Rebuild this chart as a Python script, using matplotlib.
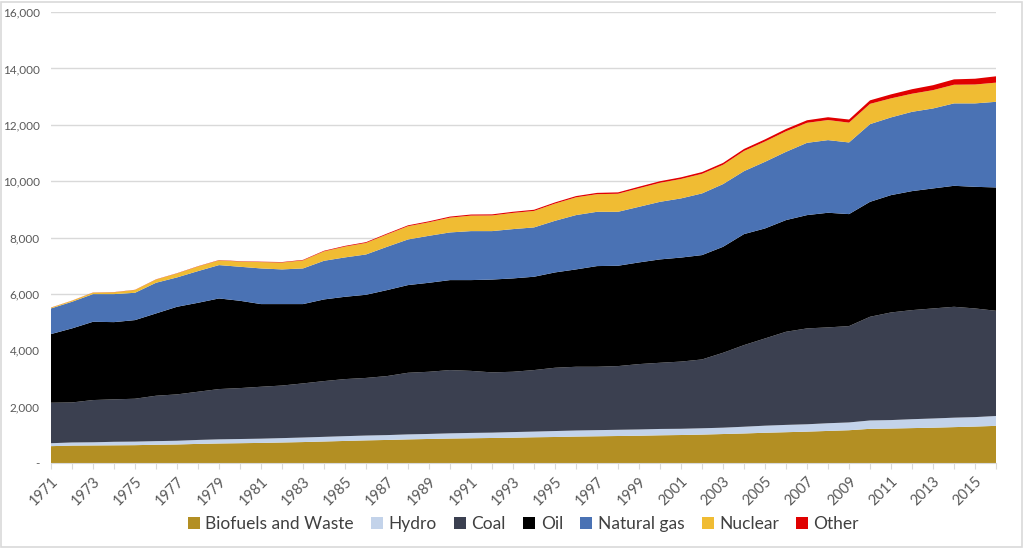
import numpy as np
import matplotlib
matplotlib.use("Agg")
import matplotlib.pyplot as plt
from matplotlib.patches import Rectangle
from matplotlib.ticker import FuncFormatter

plt.rcParams['font.family'] = ['Lato', 'DejaVu Sans']

years = np.arange(1971, 2017)

biofuels = [600, 620, 625, 630, 635, 650, 660, 680, 695, 705, 715, 730, 745, 765, 785, 805,
            820, 840, 855, 870, 880, 890, 900, 915, 925, 940, 950, 960, 970, 985, 995, 1010,
            1030, 1050, 1075, 1095, 1115, 1140, 1165, 1215, 1225, 1240, 1255, 1275, 1295, 1320]
hydro = [104, 110, 112, 124, 126, 128, 131, 140, 146, 148, 150, 155, 161, 165, 169, 171,
         172, 177, 178, 184, 189, 189, 199, 201, 211, 215, 218, 220, 222, 225, 221, 224,
         225, 239, 251, 259, 261, 273, 276, 296, 300, 316, 326, 335, 335, 350]
coal = [1436, 1420, 1498, 1506, 1521, 1610, 1645, 1710, 1784, 1807, 1842, 1865, 1920, 1978,
        2025, 2044, 2094, 2186, 2206, 2245, 2201, 2138, 2140, 2183, 2245, 2261, 2248, 2260,
        2319, 2348, 2384, 2442, 2657, 2896, 3095, 3304, 3401, 3400, 3418, 3679, 3818, 3870,
        3904, 3934, 3855, 3732]
oil = [2436, 2627, 2777, 2740, 2790, 2920, 3108, 3156, 3215, 3097, 2933, 2890, 2814, 2897,
       2920, 2950, 3050, 3111, 3157, 3192, 3221, 3293, 3312, 3311, 3382, 3454, 3572, 3560,
       3607, 3667, 3690, 3702, 3760, 3938, 3903, 3962, 4020, 4067, 3973, 4078, 4163, 4222,
       4258, 4292, 4315, 4376]
natural_gas = [909, 945, 982, 994, 969, 1088, 1042, 1124, 1183, 1207, 1265, 1230, 1265, 1371,
               1397, 1430, 1536, 1619, 1667, 1691, 1738, 1719, 1749, 1750, 1832, 1927, 1926,
               1914, 1973, 2043, 2099, 2188, 2224, 2234, 2364, 2422, 2564, 2577, 2542, 2756,
               2757, 2813, 2837, 2924, 2960, 3038]
nuclear = [29, 38, 53, 65, 100, 115, 141, 165, 168, 186, 225, 245, 285, 335, 384, 410, 440,
           470, 480, 525, 550, 555, 575, 585, 610, 630, 625, 640, 660, 675, 690, 695, 685,
           715, 720, 728, 710, 712, 703, 719, 675, 642, 650, 662, 670, 680]
other = [4, 4, 5, 6, 6, 7, 8, 9, 10, 12, 14, 16, 18, 21, 25, 27, 29, 31, 34, 37, 38, 39, 40,
         41, 42, 44, 46, 49, 53, 56, 58, 62, 66, 71, 75, 82, 90, 100, 110, 125, 142, 160,
         175, 190, 205, 225]

labels = ['Biofuels and Waste', 'Hydro', 'Coal', 'Oil', 'Natural gas', 'Nuclear', 'Other']
colors = ['#B38F23', '#C3D3EA', '#3B4050', '#000000', '#4A72B4', '#F0BC33', '#E00000']

fig = plt.figure(figsize=(10.24, 5.48), dpi=100)
ax = fig.add_axes([0.0498, 0.155, 0.9229, 0.823])

ax.stackplot(years, biofuels, hydro, coal, oil, natural_gas, nuclear, other,
             colors=colors, labels=labels, linewidth=0)

ax.set_xlim(1971, 2016)
ax.set_ylim(0, 16000)
ax.set_yticks(np.arange(0, 16001, 2000))
ax.yaxis.set_major_formatter(FuncFormatter(lambda v, p: '-' if v == 0 else f'{int(v):,}'))
ax.set_xticks(years)
ax.set_xticklabels([str(y) if (y - 1971) % 2 == 0 else '' for y in years],
                   rotation=45, ha='right', rotation_mode='anchor')

ax.grid(axis='y', color='#D9D9D9', linewidth=1)
ax.set_axisbelow(True)
for side in ['top', 'right', 'left']:
    ax.spines[side].set_visible(False)
ax.spines['bottom'].set_color('#D9D9D9')
ax.tick_params(axis='y', length=0, labelsize=8.5, labelcolor='#595959', pad=8)
ax.tick_params(axis='x', length=4, color='#D9D9D9', labelsize=10.5, labelcolor='#595959', pad=4)

ax.legend(loc='center', bbox_to_anchor=(0.5, -0.135), ncol=7, frameon=False,
          fontsize=12.5, handlelength=0.7, handleheight=0.7, columnspacing=1.0,
          handletextpad=0.3, labelcolor='#404040')

fig.patches.append(Rectangle((0.001, 0.002), 0.997, 0.995, transform=fig.transFigure,
                             fill=False, edgecolor='#D9D9D9', linewidth=1.2))

fig.savefig('out.png', dpi=100)
